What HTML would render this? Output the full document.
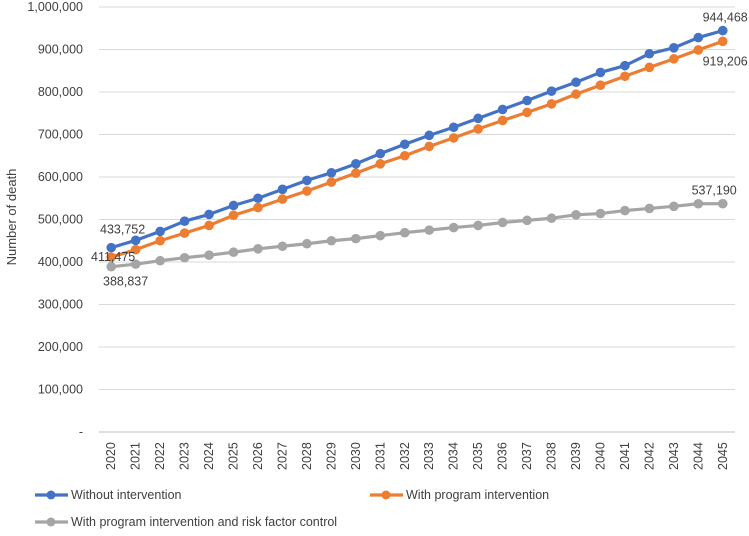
<!DOCTYPE html>
<html><head><meta charset="utf-8"><style>
body{margin:0;background:#fff;font-family:"Liberation Sans",sans-serif}
svg text{font-family:"Liberation Sans",sans-serif;fill:#404040}
</style></head><body>
<svg id="chart" width="749" height="531"></svg>
<script>
const years=[];for(let y=2020;y<=2045;y++)years.push(String(y));
const withoutIntervention=[433752,451000,472000,496000,512000,533000,550000,571000,592000,610000,631000,655000,677000,698000,717000,738000,759000,780000,802000,823000,846000,862000,890000,904000,928000,944468];
const withProgram=[411475,429000,450000,468000,486000,510000,528000,548000,567000,588000,609000,631000,650000,672000,692000,713000,733000,752000,772000,795000,816000,837000,858000,878000,899000,919206];
const withRiskControl=[388837,395000,403000,410000,416000,423000,431000,437000,443000,450000,455000,462000,469000,475000,481000,486000,493000,498000,503000,511000,514000,521000,526000,531000,537000,537190];
const yTicks=[0,100000,200000,300000,400000,500000,600000,700000,800000,900000,1000000];
const seriesNames=["Without intervention","With program intervention","With program intervention and risk factor control"];
const NS="http://www.w3.org/2000/svg";
const svg=document.getElementById('chart');
const L=99,R=735,T0=432,T1=7;
const cw=(R-L)/years.length;
const X=i=>L+cw*(i+0.5);
const Y=v=>T0-(T0-T1)*v/1000000;
function mk(tag,attrs,parent){const e=document.createElementNS(NS,tag);for(const k in attrs)e.setAttribute(k,attrs[k]);(parent||svg).appendChild(e);return e;}
const fmt=v=>v.toLocaleString('en-US');
yTicks.forEach(v=>{
 const g=mk('line',{x1:L,x2:R,y1:Y(v),y2:Y(v),stroke:'#d9d9d9','stroke-width':1});
 
 
 const t=mk('text',{x:83,y:Y(v)+4,'text-anchor':'end','font-size':12.5});
 t.textContent=v===0?'-':fmt(v);
 
 
});
const ax=mk('line',{x1:L,x2:R,y1:T0,y2:T0,stroke:'#bfbfbf'});


years.forEach((y,i)=>{
 const t=mk('text',{transform:`translate(${X(i)+4},470) rotate(-90)`,'font-size':12.5});
 t.textContent=y;
 
 
});
const yt=mk('text',{transform:'translate(16,217) rotate(-90)','text-anchor':'middle','font-size':13});
yt.textContent='Number of death';


const colors=['#4472c4','#ed7d31','#a5a5a5'];
[withoutIntervention,withProgram,withRiskControl].forEach((s,k)=>{
 const p=mk('polyline',{points:s.map((v,i)=>X(i)+','+Y(v)).join(' '),fill:'none',stroke:colors[k],'stroke-width':3.2,'stroke-linejoin':'round'});
 
 
 s.forEach((v,i)=>{
  const c=mk('circle',{cx:X(i),cy:Y(v),r:4.8,fill:colors[k]});
  
  
 });
});
function lab(txt,x,y,anchor){const t=mk('text',{x:x,y:y,'text-anchor':anchor||'start','font-size':12.5});t.textContent=txt;
 
 }
const n=years.length-1;
lab(fmt(withoutIntervention[0]),100,Y(withoutIntervention[0])-14);
lab(fmt(withProgram[0]),91,Y(withProgram[0])+4);
lab(fmt(withRiskControl[0]),103,Y(withRiskControl[0])+19);
lab(fmt(withoutIntervention[n]),X(n)+25,Y(withoutIntervention[n])-9,'end');
lab(fmt(withProgram[n]),X(n)+25,Y(withProgram[n])+24,'end');
lab(fmt(withRiskControl[n]),X(n)+14,Y(withRiskControl[n])-9,'end');
const legPos=[[35,495],[370,495],[35,522]];
seriesNames.forEach((nm,k)=>{
 const g=mk('g',{});
 
 
 const [x,y]=legPos[k];
 mk('line',{x1:x,x2:x+33,y1:y,y2:y,stroke:colors[k],'stroke-width':3.2},g);
 mk('circle',{cx:x+16,cy:y,r:4.5,fill:colors[k]},g);
 const t=mk('text',{x:x+36,y:y+4,'font-size':12.5},g);t.textContent=nm;
});
</script>
</body></html>
